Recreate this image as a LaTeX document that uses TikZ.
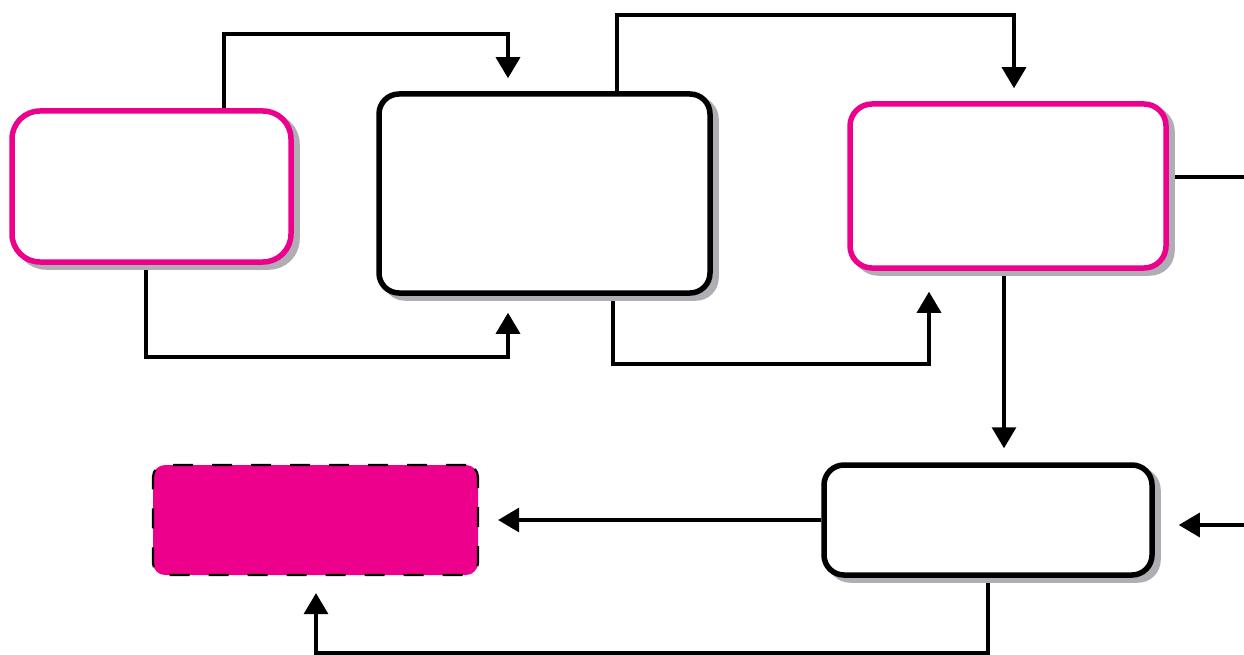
\documentclass[tikz,border=0pt]{standalone}
\usetikzlibrary{arrows.meta,shadows,backgrounds}
\definecolor{pinkc}{HTML}{EC008C}
\definecolor{shadowgray}{HTML}{B0AEB5}
\begin{document}
\begin{tikzpicture}[x=1pt,y=-1pt,
  boxbase/.style={draw, rectangle, line width=5.5pt, fill=white, inner sep=0pt,
    drop shadow={shadow xshift=6pt, shadow yshift=-5pt, opacity=1, fill=shadowgray, draw=shadowgray, line width=5.5pt}},
  pinkbox/.style={boxbase, draw=pinkc, rounded corners=28pt},
  blackbox/.style={boxbase, draw=black, rounded corners=20pt},
  dashbox/.style={draw=black, fill=pinkc, line width=2.2pt, dash pattern=on 20pt off 19pt, rounded corners=12pt, inner sep=0pt, rectangle},
  conn/.style={draw=black, line width=3.2pt},
  arr/.style={conn, -{Triangle[length=21pt,width=24pt]}}]
\useasboundingbox (0,0) rectangle (1244,655);
\node[pinkbox, minimum width=279pt, minimum height=151pt] (A) at (151.5,186.5) {};
\node[blackbox, minimum width=331pt, minimum height=199pt] (B) at (544.5,193.5) {};
\node[pinkbox, rounded corners=22pt, minimum width=316pt, minimum height=164pt] (C) at (1008,186) {};
\node[blackbox, minimum width=328pt, minimum height=110pt] (D) at (988,520) {};
\node[dashbox, minimum width=325pt, minimum height=110pt] (E) at (315.5,520) {};
\coordinate (k1) at (508,34);
\coordinate (k2) at (508,357);
\coordinate (k3) at (1014,15);
\coordinate (k4) at (929,364);
\coordinate (k9) at (316,653);
\coordinate (r5) at (1244,177);
\coordinate (r8) at (1244,525);
\coordinate (s6) at ([xshift=-4pt]C.south);
\coordinate (s5) at ([yshift=9pt]C.east);
\begin{scope}[on background layer]
\draw[arr, shorten >=13pt] ([xshift=72.5pt]A.north) |- (k1) -- (k1 |- B.north);
\draw[arr, shorten >=17pt] ([xshift=-5.5pt]A.south) |- (k2) -- (k2 |- B.south);
\draw[arr, shorten >=13pt] ([xshift=72.5pt]B.north) |- (k3) -- (k3 |- C.north);
\draw[arr, shorten >=21pt] ([xshift=68.5pt]B.south) |- (k4) -- (k4 |- C.south);
\draw[conn] (s5) -- (r5);
\draw[arr, shorten >=14pt] (s6) -- (s6 |- D.north);
\draw[arr, shorten >=19pt] (D.west) -- (E.east);
\draw[arr, shorten >=24pt] (r8) -- (r8 -| D.east);
\draw[arr, shorten >=17pt] (D.south) |- (k9) -- (k9 |- E.south);
\end{scope}
\end{tikzpicture}
\end{document}
